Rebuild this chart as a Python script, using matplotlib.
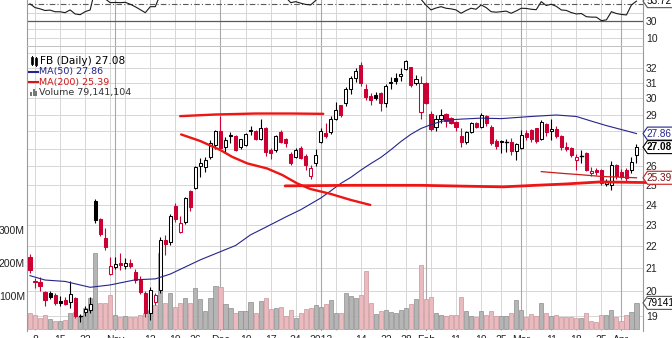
import matplotlib
matplotlib.use("Agg")
import matplotlib.pyplot as plt
from matplotlib.patches import Polygon, Rectangle
from matplotlib.lines import Line2D
from matplotlib.ticker import FixedLocator, NullLocator
from matplotlib.transforms import IdentityTransform

plt.rcParams["font.family"] = ["DejaVu Sans"]
AXIS_FONT = ["Liberation Sans", "DejaVu Sans"]

W_PX, H_PX, DPI = 672, 338, 100

# ---------------- daily bars, Oct 5 2012 .. Apr 4 2013 ----------------
symbol = "FB"
opens = [21.50, 20.45, 20.38, 19.98, 19.93, 19.83, 19.60, 19.62, 19.56, 19.72,
         19.02, 19.13, 19.23, 24.20, 23.27, 22.35, 20.76, 21.03, 21.24, 21.09,
         21.24, 20.84, 20.48, 19.93, 19.10, 19.57, 20.06, 22.30, 22.19, 23.92,
         22.67, 23.16, 24.67, 24.86, 26.02, 25.96, 26.51, 27.20, 28.01, 27.07,
         27.78, 27.72, 27.07, 27.20, 28.08, 28.00, 27.57, 28.21, 26.92, 26.92,
         27.96, 27.53, 26.69, 26.55, 27.02, 26.59, 25.48, 26.17, 27.39, 27.88,
         27.96, 28.72, 29.59, 29.70, 30.60, 31.30, 32.18, 30.60, 30.17, 30.20,
         30.37, 29.73, 31.07, 31.30, 31.45, 31.89, 32.07, 30.97, 29.15, 31.01,
         29.06, 28.27, 28.72, 29.05, 28.79, 28.55, 27.72, 27.39, 27.96, 28.50,
         28.23, 28.91, 28.27, 27.45, 27.43, 27.44, 27.39, 26.84, 27.05, 27.88,
         28.07, 28.17, 27.57, 28.43, 27.99, 28.13, 27.72, 27.11, 27.02, 26.36,
         26.58, 26.74, 25.67, 25.81, 25.81, 25.08, 25.01, 26.08, 25.72, 25.81,
         25.81, 26.64]
highs = [21.62, 20.57, 20.60, 20.02, 20.00, 19.95, 19.80, 19.75, 20.45, 19.76,
         19.07, 19.38, 19.78, 24.30, 23.32, 22.83, 21.48, 21.50, 21.67, 21.45,
         21.40, 20.95, 20.65, 20.00, 20.20, 19.95, 22.44, 22.50, 23.54, 24.10,
         23.41, 24.40, 24.75, 26.05, 26.45, 26.50, 27.50, 28.05, 28.90, 27.65,
         27.95, 27.80, 27.55, 27.90, 28.30, 28.10, 28.72, 28.25, 27.05, 27.80,
         28.10, 27.60, 26.80, 27.05, 27.15, 26.70, 26.10, 26.95, 28.18, 28.47,
         28.93, 29.79, 29.60, 30.70, 31.45, 31.96, 32.40, 30.90, 30.35, 30.40,
         30.40, 30.89, 31.40, 31.65, 31.96, 32.51, 32.07, 31.49, 31.47, 31.02,
         29.20, 28.96, 29.32, 29.08, 28.85, 28.62, 28.20, 28.04, 28.55, 28.56,
         29.08, 29.00, 28.35, 27.55, 27.50, 27.55, 27.60, 27.30, 28.07, 28.10,
         28.15, 28.20, 28.68, 28.47, 28.70, 28.30, 27.80, 27.35, 27.10, 26.70,
         26.92, 26.80, 25.95, 25.90, 25.88, 25.30, 26.30, 26.15, 25.85, 25.90,
         26.55, 27.24]
lows = [20.80, 20.14, 20.01, 19.40, 19.69, 19.45, 19.38, 19.42, 19.30, 18.90,
        18.74, 18.97, 19.10, 23.07, 22.45, 21.82, 20.68, 20.95, 20.92, 20.98,
        21.00, 20.35, 19.90, 18.95, 18.83, 19.45, 19.93, 21.60, 22.05, 23.16,
        22.60, 23.05, 23.70, 24.78, 25.45, 25.70, 26.40, 26.95, 26.90, 26.75,
        27.30, 26.85, 26.95, 27.15, 27.80, 27.50, 27.50, 26.60, 26.40, 26.80,
        27.30, 27.10, 26.10, 26.45, 26.40, 25.80, 25.35, 26.05, 27.30, 27.59,
        27.83, 28.65, 28.86, 29.54, 30.28, 31.02, 30.81, 29.88, 29.60, 29.90,
        29.20, 29.49, 30.59, 30.91, 31.13, 31.81, 30.71, 30.88, 28.74, 29.63,
        28.01, 28.04, 28.51, 28.27, 28.41, 28.02, 27.10, 27.25, 27.90, 28.20,
        28.20, 28.33, 27.20, 27.00, 26.73, 26.80, 26.64, 26.36, 26.95, 27.50,
        27.40, 27.30, 27.47, 27.73, 27.49, 27.60, 26.90, 26.85, 26.55, 25.81,
        26.17, 25.75, 25.50, 25.55, 25.00, 24.95, 24.72, 25.35, 25.35, 25.20,
        25.65, 26.20]
closes = [20.91, 20.40, 20.23, 19.64, 19.75, 19.52, 19.53, 19.48, 19.88, 18.98,
          19.00, 19.26, 19.49, 23.23, 22.57, 21.94, 21.09, 21.18, 21.12, 21.24,
          21.09, 20.48, 19.97, 19.12, 20.06, 19.85, 22.30, 22.10, 23.41, 23.27,
          23.08, 24.35, 23.90, 25.99, 26.17, 26.36, 27.30, 28.03, 27.05, 27.49,
          27.72, 26.92, 27.53, 27.84, 28.02, 27.57, 28.21, 26.83, 26.77, 27.72,
          27.39, 27.34, 26.21, 26.92, 26.46, 26.08, 25.90, 26.62, 28.00, 27.69,
          28.72, 29.30, 28.97, 30.57, 31.30, 31.80, 30.96, 30.07, 29.90, 30.00,
          29.73, 30.80, 30.97, 31.12, 31.58, 32.48, 30.86, 31.24, 30.98, 29.73,
          28.11, 28.70, 29.00, 28.62, 28.50, 28.27, 27.39, 27.96, 28.50, 28.27,
          28.97, 28.50, 27.30, 27.13, 27.36, 27.39, 26.87, 27.25, 27.78, 27.64,
          27.52, 27.45, 28.56, 27.96, 28.13, 27.72, 27.08, 26.95, 26.65, 26.55,
          26.56, 25.83, 25.78, 25.68, 25.10, 25.21, 26.06, 25.50, 25.45, 25.38,
          26.27, 27.08]
prior_close = 22.00

# volume in millions of shares
volume_m = [49, 42, 32, 42, 29, 24, 24, 26, 47, 52,
            37, 63, 93, 231, 78, 78, 103, 42, 37, 40,
            36, 37, 41, 47, 58, 73, 229, 78, 108, 68,
            79, 93, 78, 125, 90, 55, 93, 130, 126, 76,
            63, 50, 55, 55, 81, 50, 85, 94, 61, 65,
            67, 39, 57, 34, 48, 60, 63, 73, 68, 75,
            88, 49, 49, 110, 100, 95, 103, 176, 78, 44,
            55, 58, 51, 49, 58, 64, 75, 92, 193, 91,
            96, 50, 42, 40, 42, 42, 96, 54, 39, 37,
            54, 43, 54, 39, 39, 38, 47, 88, 58, 37,
            45, 39, 78, 47, 39, 41, 37, 36, 35, 34,
            33, 47, 25, 22, 42, 41, 58, 35, 25, 41,
            51, 79.141104]

# moving averages (bar index, value)
ma50_idx = [0, 3, 7, 12, 16, 21, 25, 28, 34, 38, 41, 44, 47, 51, 54, 58, 60, 62,
            64, 66, 68, 70, 72, 74, 76, 78, 80, 82, 84, 86, 90, 94, 100, 105,
            109, 112, 115, 119, 121]
ma50_val = [20.67, 20.48, 20.42, 20.17, 20.27, 20.49, 20.53, 20.74, 21.37, 21.74,
            22.02, 22.52, 22.88, 23.38, 23.74, 24.33, 24.70, 25.09, 25.41, 25.80,
            26.16, 26.50, 26.93, 27.40, 27.82, 28.16, 28.39, 28.58, 28.68, 28.72,
            28.78, 28.75, 28.88, 28.97, 28.88, 28.60, 28.33, 28.02, 27.86]
ma200_idx = [102, 106, 110, 114, 118, 121]
ma200_val = [25.72, 25.63, 25.55, 25.46, 25.42, 25.39]

# RSI(14), one value per bar
rsi14 = [50.5, 46.0, 44.5, 42.5, 43.0, 41.0, 41.0, 39.9, 43.2, 38.4,
         37.5, 41.1, 43.2, 68.0, 62.0, 56.5, 51.9, 52.2, 51.9, 52.3,
         50.0, 47.0, 43.5, 39.9, 47.1, 47.1, 62.0, 60.5, 65.0, 62.0,
         61.0, 66.0, 63.0, 69.0, 70.0, 71.0, 73.0, 75.0, 66.0, 67.0,
         68.0, 63.0, 65.0, 67.0, 67.5, 64.0, 67.0, 59.0, 58.0, 62.0,
         60.5, 58.5, 51.9, 53.1, 51.3, 49.8, 49.2, 54.5, 62.0, 61.0,
         65.0, 67.0, 65.0, 70.0, 72.0, 73.0, 64.0, 60.0, 58.5, 59.5,
         57.0, 61.0, 61.5, 61.5, 63.0, 66.0, 58.5, 59.5, 56.0, 49.0,
         43.2, 45.5, 47.1, 45.2, 44.5, 43.2, 39.2, 42.5, 45.2, 44.0,
         49.2, 46.0, 41.1, 40.5, 41.1, 41.8, 39.2, 42.0, 45.2, 45.0,
         44.0, 43.5, 53.1, 48.5, 50.0, 47.5, 43.2, 42.6, 40.0, 38.4,
         38.9, 35.1, 34.6, 34.5, 30.4, 31.3, 41.1, 38.9, 37.8, 37.2,
         49.2, 53.72]

# calendar grid: first bar of each week / month
week_idx = [1, 6, 11, 16, 19, 24, 29, 33, 38, 43, 48, 53, 57, 61, 66, 71, 75,
            80, 85, 90, 94, 99, 104, 109, 114, 118]
month_idx = [17, 38, 58, 79, 98, 118]
date_tick_idx = [1, 6, 11, 17, 24, 29, 33, 38, 43, 48, 53, 58, 66, 71, 75, 79,
                 85, 90, 94, 98, 104, 109, 114, 118]
date_tick_lbl = ["8", "15", "22", "Nov", "12", "19", "26", "Dec", "10", "17",
                 "24", "2013", "14", "22", "28", "Feb", "11", "19", "25", "Mar",
                 "11", "18", "25", "Apr"]
price_grid = list(range(19, 34))
price_labels = [19, 20, 21, 22, 23, 24, 25, 26, 29, 30, 31, 32]
volume_labels_m = [100, 200, 300]

# hand-drawn study lines (bar index, price)
resist_x = [29.95, 37.0, 45.0, 52.0, 58.5]
resist_y = [28.90, 29.00, 29.06, 29.06, 29.04]
trend_x = [30.15, 33.95, 37.94, 40.34, 43.33, 47.32, 50.32, 53.31, 55.91, 59.9, 63.9, 67.89]
trend_y = [27.81, 27.43, 26.92, 26.53, 26.17, 25.89, 25.54, 25.09, 24.80, 24.55, 24.24, 23.98]
support_x = [50.9, 63.9, 77.9, 87.9, 94.4, 100.8, 106.8, 113.8, 121.8, 128.2]
support_y = [24.96, 24.99, 24.99, 24.94, 24.91, 24.99, 25.06, 25.17, 25.14, 25.13]

# ---------------- colours ----------------
RED = "#cc0033"
NAVY = "#24248c"
MA200_RED = "#cc1a1a"
PEN_RED = "#ee1515"
GRID = "#d6d6d6"
GRID_DARK = "#a9a9a9"
PINK, PINK_EDGE = "#ebbabe", "#c9979c"
GREY, GREY_EDGE = "#b5b5b5", "#8e8e8e"
TXT = "#222222"

# ---------------- layout ----------------
fig = plt.figure(figsize=(W_PX / DPI, H_PX / DPI), dpi=DPI)
fig.patch.set_facecolor("white")


def frac_box(left, top, right, bottom):
    return [left / W_PX, 1 - bottom / H_PX, (right - left) / W_PX, (bottom - top) / H_PX]


main_box = frac_box(27, 46, 643, 331)
ind_box = frac_box(27, 46 - 83.5, 643, 46)

n = len(closes)
xlim = (-0.6, n + 0.3)
plim = (18.40, 33.49)
vol_px_per_m = 0.33
vlim = (-2 / vol_px_per_m, (331 - 46 - 2) / vol_px_per_m)

ax_bg = fig.add_axes(main_box)
ax_vol = fig.add_axes(main_box, sharex=ax_bg)
ax = fig.add_axes(main_box, sharex=ax_bg)
ax_ind = fig.add_axes(ind_box, sharex=ax_bg)

for a in (ax_bg, ax):
    a.set_yscale("log")
    a.set_ylim(*plim)
    a.yaxis.set_minor_locator(NullLocator())
ax_vol.set_ylim(*vlim)
ax_ind.set_ylim(0, 100)
ax_bg.set_xlim(*xlim)

ax_vol.patch.set_alpha(0)
ax.patch.set_alpha(0)

for a in (ax_bg, ax_vol, ax, ax_ind):
    for s in a.spines.values():
        s.set_visible(False)
    a.tick_params(length=0)
for a in (ax_bg, ax_ind):
    for side in ("left", "right"):
        a.spines[side].set_visible(True)
        a.spines[side].set_color("#9a9a9a")
        a.spines[side].set_linewidth(0.8)
ax_ind.spines["bottom"].set_visible(True)
ax_ind.spines["bottom"].set_color("#c0c0c0")
ax_ind.spines["bottom"].set_linewidth(0.7)

# grid
for p in price_grid:
    ax_bg.axhline(p, color=GRID, lw=0.7, zorder=0)
for g in (10, 20, 40):
    ax_ind.axhline(g, color=GRID, lw=0.7, zorder=0)
for a in (ax_bg, ax_ind):
    for w in week_idx:
        a.axvline(w, color=GRID, lw=0.7, zorder=0)
    for m in month_idx:
        a.axvline(m, color=GRID_DARK, lw=0.8, zorder=0)

# volume bars
up = [closes[i] >= (closes[i - 1] if i else prior_close) for i in range(n)]
ax_vol.bar(range(n), volume_m, width=0.82,
           color=[GREY if u else PINK for u in up],
           edgecolor=[GREY_EDGE if u else PINK_EDGE for u in up],
           linewidth=0.5, zorder=2)

# candles
body_w = 0.62
for i in range(n):
    o, h, l, c = opens[i], highs[i], lows[i], closes[i]
    col = "black" if up[i] else RED
    ax.plot([i, i], [l, h], color=col, lw=0.8, zorder=3, solid_capstyle="butt")
    lo_b, hi_b = min(o, c), max(o, c)
    face = "white" if c > o else col
    if hi_b / lo_b < 1.002:
        ax.plot([i - body_w / 2, i + body_w / 2], [c, c], color=col, lw=1.0, zorder=4)
    else:
        ax.add_patch(Rectangle((i - body_w / 2, lo_b), body_w, hi_b - lo_b,
                               facecolor=face, edgecolor=col, lw=0.75, zorder=4))

# moving averages
ax.plot(ma50_idx, ma50_val, color=NAVY, lw=0.8, zorder=5)
ax.plot(ma200_idx, ma200_val, color=MA200_RED, lw=0.9, zorder=5)

# hand-drawn study lines
ax.plot(resist_x, resist_y, color=PEN_RED, lw=1.7, zorder=6, solid_capstyle="round")
ax.plot(trend_x, trend_y, color=PEN_RED, lw=1.7, zorder=6, solid_capstyle="round")
ax.plot(support_x, support_y, color=PEN_RED, lw=2.0, zorder=6, clip_on=False,
        solid_capstyle="round")

# RSI panel
ax_ind.axhline(30, color="#5a5a5a", lw=0.9, zorder=1)
ax_ind.axhline(50, color="#5a5a5a", lw=0.8, dashes=(5, 2, 1, 2), zorder=1)
ax_ind.plot(range(n), rsi14, color="#1a1a1a", lw=0.8, zorder=3)

# axis labels
ax.yaxis.tick_right()
ax.yaxis.set_major_locator(FixedLocator(price_labels))
ax.set_yticklabels([str(p) for p in price_labels], family=AXIS_FONT)
ax.tick_params(axis="y", pad=2, labelsize=7.5, labelcolor=TXT)
ax.tick_params(axis="x", labelbottom=False)
ax_bg.tick_params(axis="y", left=False, labelleft=False)
ax_bg.set_yticks([])
ax_bg.set_xticks(date_tick_idx)
ax_bg.set_xticklabels(date_tick_lbl, fontsize=7.5, color=TXT, family=AXIS_FONT)
ax_bg.tick_params(axis="x", pad=2.6)

ax_vol.set_yticks([v for v in volume_labels_m])
ax_vol.set_yticklabels([f"{v}M" for v in volume_labels_m], fontsize=7.5,
                       color=TXT, family=AXIS_FONT)
ax_vol.tick_params(axis="y", pad=1.5)
ax_vol.tick_params(axis="x", labelbottom=False)

ax_ind.yaxis.tick_right()
ax_ind.set_yticks([10, 30])
ax_ind.set_yticklabels(["10", "30"], fontsize=7.5, color=TXT, family=AXIS_FONT)
ax_ind.tick_params(axis="y", pad=2)
ax_ind.tick_params(axis="x", labelbottom=False)


# value tags on the right edge
def value_tag(axis, value, text, fg, edge, bold=False):
    x0 = ax.transAxes.transform((1, 0))[0]
    y0 = axis.transData.transform((0, value))[1]
    hh = 6.5
    pts = [(x0, y0), (x0 + 4.5, y0 + hh), (x0 + 60, y0 + hh),
           (x0 + 60, y0 - hh), (x0 + 4.5, y0 - hh)]
    fig.add_artist(Polygon(pts, closed=True, transform=IdentityTransform(),
                           facecolor="white", edgecolor=edge, lw=0.8, zorder=10))
    fig.text(x0 + 3.5, y0, text, transform=IdentityTransform(), fontsize=7.2,
             family=AXIS_FONT, color=fg, va="center", ha="left",
             fontweight="bold" if bold else "normal", zorder=11)


value_tag(ax, ma50_val[-1], f"{ma50_val[-1]:.2f}", NAVY, NAVY)
value_tag(ax, closes[-1], f"{closes[-1]:.2f}", "black", "black", bold=True)
value_tag(ax, ma200_val[-1], f"{ma200_val[-1]:.2f}", "#7a1010", MA200_RED)
value_tag(ax_vol, volume_m[-1], f"{volume_m[-1] * 1e6:.0f}", "black", "#555555")
value_tag(ax_ind, rsi14[-1], f"{rsi14[-1]:.2f}", "black", "#555555")


# legend block
def fx(x):
    return x / W_PX


def fy(y):
    return 1 - y / H_PX


fig.text(fx(40), fy(61), f"{symbol} (Daily) {closes[-1]:.2f}", fontsize=7.6,
         color="black", va="center", ha="left", zorder=12)
fig.text(fx(39), fy(71.5), f"MA(50) {ma50_val[-1]:.2f}", fontsize=6.8,
         color=NAVY, va="center", ha="left", zorder=12)
fig.text(fx(39), fy(82), f"MA(200) {ma200_val[-1]:.2f}", fontsize=6.8,
         color=MA200_RED, va="center", ha="left", zorder=12)
fig.text(fx(39), fy(92.5), f"Volume {round(volume_m[-1] * 1e6):,}", fontsize=6.8,
         color="#333333", va="center", ha="left", zorder=12)
fig.add_artist(Line2D([fx(29), fx(38)], [fy(71.5), fy(71.5)], color=NAVY, lw=1.5))
fig.add_artist(Line2D([fx(29), fx(38)], [fy(82), fy(82)], color=MA200_RED, lw=1.5))
for k, hgt in enumerate((4, 7, 5)):
    fig.add_artist(Rectangle((fx(30 + 2.6 * k), fy(96)), 2.0 / W_PX, hgt / H_PX,
                             facecolor="#777777", edgecolor="none",
                             transform=fig.transFigure))
for k, (top, bot) in enumerate(((57, 64), (58, 65))):
    xk = 30.5 + 4.5 * k
    fig.add_artist(Line2D([fx(xk + 1), fx(xk + 1)], [fy(top - 1.5), fy(bot + 1)],
                          color="black", lw=0.7))
    fig.add_artist(Rectangle((fx(xk), fy(bot)), 2.2 / W_PX, (bot - top) / H_PX,
                             facecolor="black", edgecolor="black", lw=0.5,
                             transform=fig.transFigure))

fig.savefig("out.png", dpi=DPI, facecolor="white")
